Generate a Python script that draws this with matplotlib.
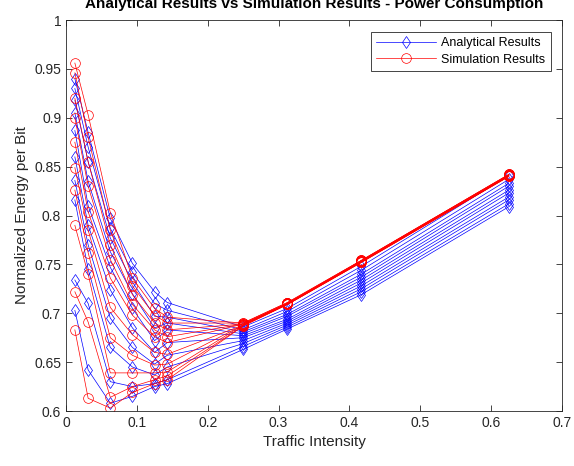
import numpy as np
import matplotlib.pyplot as plt

plt.rcParams['font.family'] = ['Liberation Sans', 'DejaVu Sans']

# traffic intensity sample points
traffic = [0.0125, 0.03125, 0.0625, 0.09375, 0.125, 0.1429, 0.25, 0.3125, 0.4167, 0.625]

# analytical curves: each inner list = values of all curves at one traffic point
ana_cols = [
    [0.703, 0.734, 0.816, 0.836, 0.860, 0.887, 0.905, 0.918, 0.930, 0.940],
    [0.642, 0.710, 0.745, 0.770, 0.790, 0.810, 0.835, 0.855, 0.870, 0.885],
    [0.608, 0.630, 0.665, 0.695, 0.724, 0.747, 0.763, 0.777, 0.787, 0.797],
    [0.615, 0.625, 0.645, 0.665, 0.685, 0.705, 0.720, 0.732, 0.742, 0.751],
    [0.625, 0.628, 0.637, 0.648, 0.660, 0.672, 0.685, 0.697, 0.710, 0.722],
    [0.628, 0.632, 0.645, 0.657, 0.670, 0.683, 0.690, 0.696, 0.703, 0.711],
    [0.663, 0.666, 0.669, 0.672, 0.675, 0.677, 0.679, 0.681, 0.683, 0.686],
    [0.684, 0.686, 0.688, 0.690, 0.692, 0.694, 0.697, 0.699, 0.702, 0.705],
    [0.719, 0.722, 0.725, 0.728, 0.731, 0.734, 0.737, 0.740, 0.744, 0.748],
    [0.809, 0.812, 0.816, 0.819, 0.823, 0.826, 0.830, 0.833, 0.837, 0.841],
]

# simulation curves, same layout
sim_cols = [
    [0.683, 0.722, 0.790, 0.826, 0.849, 0.875, 0.900, 0.920, 0.946, 0.956],
    [0.613, 0.691, 0.740, 0.762, 0.785, 0.804, 0.830, 0.855, 0.880, 0.903],
    [0.603, 0.614, 0.639, 0.675, 0.706, 0.736, 0.755, 0.770, 0.785, 0.803],
    [0.619, 0.625, 0.639, 0.657, 0.678, 0.698, 0.709, 0.719, 0.728, 0.736],
    [0.628, 0.632, 0.639, 0.647, 0.660, 0.676, 0.683, 0.690, 0.698, 0.705],
    [0.632, 0.636, 0.640, 0.648, 0.658, 0.670, 0.676, 0.683, 0.690, 0.696],
    [0.687, 0.687, 0.688, 0.688, 0.688, 0.689, 0.689, 0.689, 0.690, 0.690],
    [0.709, 0.709, 0.709, 0.709, 0.710, 0.710, 0.710, 0.710, 0.711, 0.711],
    [0.752, 0.752, 0.752, 0.753, 0.753, 0.753, 0.753, 0.754, 0.754, 0.754],
    [0.840, 0.840, 0.840, 0.841, 0.841, 0.841, 0.841, 0.842, 0.842, 0.842],
]

analytical = np.array(ana_cols).T
simulation = np.array(sim_cols).T

fig = plt.figure(figsize=(5.74, 4.66), dpi=100)
ax = fig.add_axes([0.115, 0.118, 0.864, 0.839])

for i in range(analytical.shape[0]):
    ax.plot(traffic, analytical[i], color='blue', lw=0.5, marker='d', ms=6,
            mfc='none', mew=0.5, label='Analytical Results' if i == 0 else None)
for i in range(simulation.shape[0]):
    ax.plot(traffic, simulation[i], color='red', lw=0.5, marker='o', ms=7,
            mfc='none', mew=0.5, label='Simulation Results' if i == 0 else None)

ax.set_xlim(0, 0.7)
ax.set_ylim(0.6, 1)
ax.set_xticks(np.arange(0, 0.71, 0.1))
ax.set_xticklabels(['0', '0.1', '0.2', '0.3', '0.4', '0.5', '0.6', '0.7'])
ax.set_yticks(np.arange(0.6, 1.001, 0.05))
ax.set_yticklabels(['0.6', '0.65', '0.7', '0.75', '0.8', '0.85', '0.9', '0.95', '1'])
gray = '#262626'
ax.tick_params(direction='in', top=True, right=True, length=4, width=0.6,
               labelsize=10, colors=gray, labelcolor=gray)
for s in ax.spines.values():
    s.set_color(gray)
    s.set_linewidth(0.6)

ax.set_xlabel('Traffic Intensity', fontsize=11, color=gray)
ax.set_ylabel('Normalized Energy per Bit', fontsize=11, color=gray)
ax.set_title('Analytical Results vs Simulation Results - Power Consumption',
             fontsize=11, fontweight='bold', pad=9)

leg = ax.legend(loc='upper right', fontsize=9, fancybox=False, framealpha=1,
                bbox_to_anchor=(0.978, 0.97), borderaxespad=0, handlelength=4.8,
                borderpad=0.45, labelspacing=0.35, handletextpad=0.4)
leg.get_frame().set_edgecolor(gray)
leg.get_frame().set_linewidth(0.6)

fig.savefig('out.png', dpi=100)
